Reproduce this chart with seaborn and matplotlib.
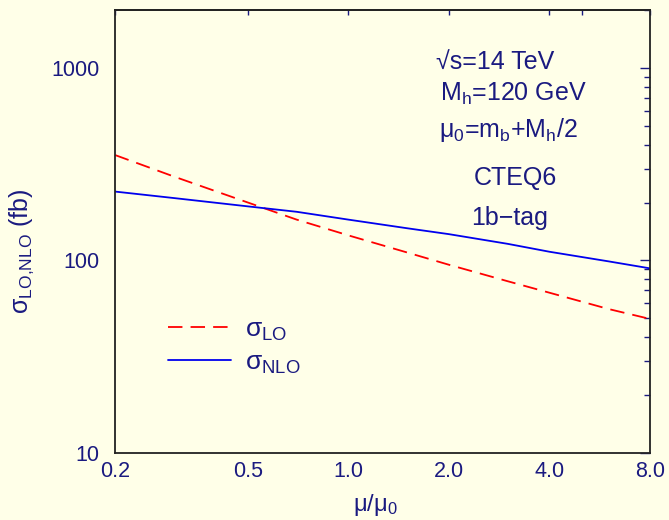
import numpy as np
import pandas as pd
import matplotlib
matplotlib.use("Agg")
import matplotlib.pyplot as plt
import seaborn as sns
from matplotlib.ticker import FixedLocator, NullFormatter, LogLocator

# ---- data ----
mu_ratio = [0.2, 0.3, 0.5, 0.7, 1.0, 1.5, 2.0, 3.0, 4.0, 6.0, 8.0]
sigma_lo = [353, 273, 200, 163, 135, 110, 95, 78, 68, 56, 49.7]
sigma_nlo = [228, 211, 191, 179, 163, 147, 137, 122, 111, 99, 91]
x_ticks = [0.2, 0.5, 1.0, 2.0, 4.0, 8.0]
x_tick_labels = ["0.2", "0.5", "1.0", "2.0", "4.0", "8.0"]
y_ticks = [10, 100, 1000]
y_tick_labels = ["10", "100", "1000"]
annotations = ["√s=14 TeV", r"M$_\mathregular{h}$=120 GeV",
               r"μ$_\mathregular{0}$=m$_\mathregular{b}$+M$_\mathregular{h}$/2",
               "CTEQ6", "1b−tag"]

BG = "#FFFFE8"
NAVY = "#1A1A80"

sns.set_theme(style="white")
plt.rcParams['font.family'] = ['Liberation Sans', 'DejaVu Sans']
plt.rcParams['mathtext.fontset'] = 'custom'
plt.rcParams['mathtext.rm'] = 'Liberation Sans'
plt.rcParams['mathtext.it'] = 'Liberation Sans'

fig = plt.figure(figsize=(6.69, 5.2), dpi=100, facecolor=BG)
ax = fig.add_axes([115/669, 1-453/520, (650-115)/669, (453-10)/520])
ax.set_facecolor(BG)

df = pd.DataFrame({"mu": mu_ratio, "lo": sigma_lo, "nlo": sigma_nlo})
sns.lineplot(data=df, x="mu", y="lo", ax=ax, color="#FF0000", lw=1.3,
             linestyle=(0, (8, 4.5)), label=r"$\mathregular{σ_{LO}}$")
sns.lineplot(data=df, x="mu", y="nlo", ax=ax, color="#0000EE", lw=1.3,
             label=r"$\mathregular{σ_{NLO}}$")

ax.set_xscale("log")
ax.set_yscale("log")
ax.set_xlim(0.2, 8.0)
ax.set_ylim(10, 2000)

ax.xaxis.set_major_locator(FixedLocator(x_ticks))
ax.set_xticklabels(x_tick_labels)
ax.xaxis.set_minor_locator(FixedLocator([5.0]))
ax.xaxis.set_minor_formatter(NullFormatter())
ax.yaxis.set_major_locator(FixedLocator(y_ticks))
ax.set_yticklabels(y_tick_labels)
ax.yaxis.set_minor_locator(LogLocator(base=10, subs=np.arange(2, 10)))
ax.yaxis.set_minor_formatter(NullFormatter())

ax.tick_params(which="both", direction="in", top=False, right=True, color=NAVY,
               labelcolor=NAVY, labelsize=15.5)
ax.tick_params(which="major", length=7, width=1)
ax.tick_params(which="minor", length=4, width=1)
ax.tick_params(axis="y", pad=11)
ax.tick_params(axis="x", pad=6)

sec = ax.secondary_xaxis("top")
sec.set_xticks(x_ticks + [5.0])
sec.xaxis.set_minor_locator(FixedLocator([]))
sec.tick_params(which="both", direction="in", length=3.5, width=1, color=NAVY,
                labeltop=False)
sec.spines["top"].set_color("#222222")
sec.spines["top"].set_linewidth(1.3)

for s in ax.spines.values():
    s.set_color("#222222")
    s.set_linewidth(1.3)

ax.set_xlabel(r"μ/μ$_\mathregular{0}$", color=NAVY, fontsize=17)
ax.xaxis.set_label_coords((375 - 115) / 535, (453 - 492) / 443)
ax.set_ylabel(r"σ$_\mathregular{LO{,}NLO}$ (fb)", color=NAVY, fontsize=18)
ax.yaxis.set_label_coords((36 - 115) / 535, (453 - 251) / 443)

def ax_xy(px, py):
    return (px - 115) / 535, (453 - py) / 443

pos = [(436, 62), (440, 94), (439, 130), (474, 178), (471, 218)]
for t, (px, py) in zip(annotations, pos):
    ax.text(*ax_xy(px, py), t, transform=ax.transAxes, ha="left", va="center",
            color=NAVY, fontsize=18)

leg = ax.legend(loc="upper left", bbox_to_anchor=ax_xy(157, 307), frameon=False,
                fontsize=19, handlelength=2.42, handletextpad=0.5,
                labelspacing=0.3, borderaxespad=0)
for t in leg.get_texts():
    t.set_color(NAVY)

fig.savefig("out.png", dpi=100, facecolor=BG)
